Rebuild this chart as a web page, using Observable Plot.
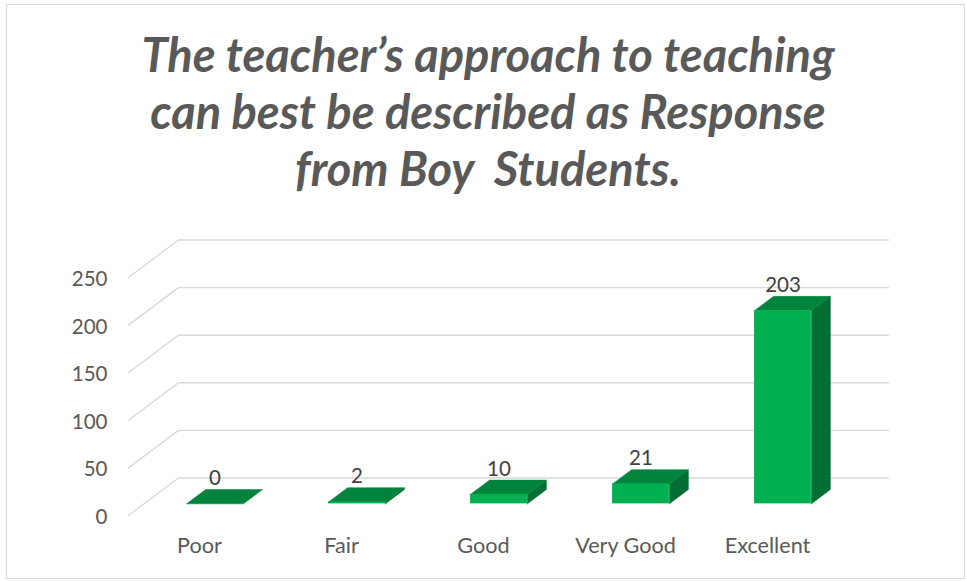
<!DOCTYPE html>
<html><head><meta charset="utf-8">
<script src="https://cdn.jsdelivr.net/npm/d3@7"></script>
<script src="https://cdn.jsdelivr.net/npm/@observablehq/plot@0.6"></script>
<style>
body{margin:0;background:#fff;}
#wrap{position:relative;width:967px;height:581px;overflow:hidden;background:#fff;}
#wrap svg{display:block;}
#border{position:absolute;left:6px;top:4px;width:959px;height:575px;border:1px solid #d9d9d9;box-sizing:border-box;pointer-events:none;}
</style></head>
<body>
<div id="wrap"><div id="title"></div><div id="chart"></div><div id="border"></div></div>
<script>
// ---- data ----
const categories = ["Poor", "Fair", "Good", "Very Good", "Excellent"];
const values = [0, 2, 10, 21, 203];
const yTicks = [0, 50, 100, 150, 200, 250];
const titleLines = ["The teacher’s approach to teaching", "can best be described as Response", "from Boy  Students."];

// ---- style / geometry constants ----
const FONT = "Lato, 'Open Sans', sans-serif";
const DEPTH_X = 0.352;   // full floor depth, in category-slot units
const DEPTH_Y = 39.4;    // full floor depth, in value units
const BAR_Z0 = 0.31, BAR_Z1 = 0.69, BAR_HALF = 0.2;
const FRONT = "#00b050", TOP = "#00843c", SIDE = "#006f31";

// measure helper
const ctx = document.createElement("canvas").getContext("2d");
function fitSize(text, style, target) {
  ctx.font = `${style} 100px ${FONT}`;
  return 100 * target / ctx.measureText(text).width;
}
const titleSize = fitSize(titleLines[0], "italic bold", 694);
const tickSize = fitSize("250", "normal", 35.7);
const catSize = fitSize("Excellent", "normal", 85.7);

// ---- title ----
const tsvg = d3.create("svg").attr("width", 967).attr("height", 200);
tsvg.selectAll("text").data(titleLines).join("text")
  .attr("x", 488).attr("y", (d, i) => 72 + i * 57)
  .attr("text-anchor", "middle")
  .attr("fill", "#595959")
  .attr("font-family", FONT).attr("font-style", "italic").attr("font-weight", "bold")
  .attr("font-size", titleSize)
  .style("white-space", "pre")
  .attr("xml:space", "preserve")
  .text(d => d);
document.getElementById("title").append(tsvg.node());

// ---- geometry derived from data ----
const gridPts = yTicks.flatMap(t => [
  {t, x: -0.5, y: t},
  {t, x: -0.5 + DEPTH_X, y: t + DEPTH_Y},
  {t, x: categories.length - 0.5 + DEPTH_X, y: t + DEPTH_Y}
]);
const a0x = BAR_Z0 * DEPTH_X, a0y = BAR_Z0 * DEPTH_Y;
const a1x = BAR_Z1 * DEPTH_X, a1y = BAR_Z1 * DEPTH_Y;
const bars = values.map((v, i) => ({i, v, xl: i + a0x - BAR_HALF, xr: i + a0x + BAR_HALF}));
const topPts = bars.flatMap(b => [
  {id: b.i, x: b.xl, y: b.v + a0y},
  {id: b.i, x: b.xr, y: b.v + a0y},
  {id: b.i, x: b.xr + (a1x - a0x), y: b.v + a1y},
  {id: b.i, x: b.xl + (a1x - a0x), y: b.v + a1y},
  {id: b.i, x: b.xl, y: b.v + a0y}
]);
const sidePts = bars.filter(b => b.v > 0).flatMap(b => [
  {id: b.i, x: b.xr, y: a0y},
  {id: b.i, x: b.xr, y: b.v + a0y},
  {id: b.i, x: b.xr + (a1x - a0x), y: b.v + a1y},
  {id: b.i, x: b.xr + (a1x - a0x), y: a1y},
  {id: b.i, x: b.xr, y: a0y}
]);

const chart = Plot.plot({
  width: 967, height: 381,
  marginLeft: 128, marginRight: 129, marginTop: 77, marginBottom: 66,
  style: {fontFamily: FONT, background: "transparent", overflow: "visible"},
  x: {type: "linear", domain: [-0.5, categories.length - 0.5], axis: null},
  y: {domain: [0, 250], axis: null},
  marks: [
    Plot.line(gridPts, {x: "x", y: "y", z: "t", stroke: "#d9d9d9", strokeWidth: 1.4}),
    Plot.axisY(yTicks, {tickSize: 0, tickPadding: 21, fontSize: tickSize, color: "#595959", label: null, dy: 2}),
    Plot.axisX(d3.range(categories.length), {tickSize: 0, tickPadding: 22, fontSize: catSize, color: "#595959", label: null, tickFormat: i => categories[i]}),
    Plot.line(sidePts, {x: "x", y: "y", z: "id", fill: SIDE, stroke: SIDE, strokeWidth: 0.5}),
    Plot.line(topPts, {x: "x", y: "y", z: "id", fill: TOP, stroke: TOP, strokeWidth: 0.5}),
    Plot.rect(bars, {x1: "xl", x2: "xr", y1: () => a0y, y2: b => b.v + a0y, fill: FRONT}),
    Plot.text(bars, {x: b => b.i + a0x, y: b => b.v + a1y, text: b => String(b.v), dy: -11, fontSize: tickSize, fill: "#404040"})
  ]
});
document.getElementById("chart").append(chart);
</script>
</body></html>
